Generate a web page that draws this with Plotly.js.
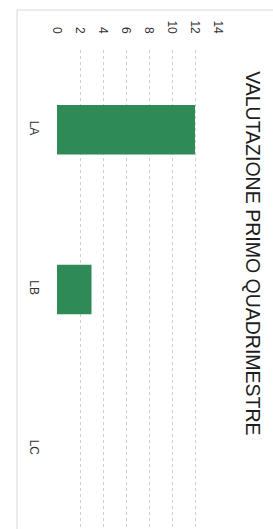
<!DOCTYPE html>
<html>
<head>
<meta charset="utf-8">
<script src="https://cdn.plot.ly/plotly-3.0.1.min.js"></script>
<style>html,body{margin:0;padding:0;background:#fff;}#chart{width:273px;height:529px;}</style>
</head>
<body>
<div id="chart"></div>
<script>
const categories = ["LA", "LB", "LC"];
const values = [12, 3, 0];
const valueTicks = [0, 2, 4, 6, 8, 10, 12, 14];
const titleText = "VALUTAZIONE PRIMO QUADRIMESTRE";

const trace = {
  type: "bar",
  orientation: "h",
  y: categories,
  x: values,
  marker: {color: "#2e8b57", line: {width: 0}},
  width: 0.31,
  hoverinfo: "none"
};

const layout = {
  width: 273,
  height: 529,
  margin: {l: 57, r: 55, t: 50, b: 0},
  paper_bgcolor: "#ffffff",
  plot_bgcolor: "#ffffff",
  showlegend: false,
  font: {family: "Liberation Sans, Arial, sans-serif", color: "#333"},
  xaxis: {
    side: "top",
    range: [0, 14],
    tickvals: valueTicks,
    ticktext: valueTicks.map(String),
    tickangle: 90,
    tickfont: {size: 12, color: "#333"},
    showgrid: true,
    gridcolor: "#cfcfcf",
    griddash: "dot",
    gridwidth: 1,
    zeroline: false,
    showline: false,
    ticks: "outside",
    ticklen: 11,
    tickcolor: "rgba(0,0,0,0)"
  },
  yaxis: {
    type: "category",
    autorange: "reversed",
    tickangle: 90,
    tickfont: {size: 12, color: "#333"},
    showgrid: false,
    zeroline: false,
    showline: false,
    ticks: "outside",
    ticklen: 12,
    tickcolor: "rgba(0,0,0,0)"
  },
  annotations: [{
    text: titleText,
    xref: "paper", yref: "paper",
    x: 1.217, y: 0.576,
    xanchor: "center", yanchor: "middle",
    textangle: 90,
    showarrow: false,
    font: {size: 19.5, color: "#1e1e1e", family: "Liberation Sans, Arial, sans-serif"}
  }],
  shapes: [{
    type: "rect", xref: "paper", yref: "paper",
    x0: -0.248, x1: 1.6, y0: -0.1, y1: 1.0835,
    line: {color: "#d8d8d8", width: 1}
  }]
};

Plotly.newPlot("chart", [trace], layout, {staticPlot: true, displayModeBar: false});
</script>
</body>
</html>
